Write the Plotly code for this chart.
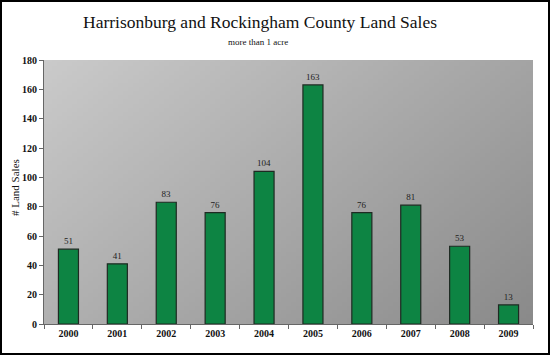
import plotly.graph_objects as go
import zlib, struct, base64

years = ["2000", "2001", "2002", "2003", "2004", "2005", "2006", "2007", "2008", "2009"]
sales = [51, 41, 83, 76, 104, 163, 76, 81, 53, 13]

# diagonal gray gradient background as PNG data URI
def gradient_png(w=96, h=64, c0=202, c1=138):
    raw = b""
    for j in range(h):
        row = b"\x00"
        for i in range(w):
            t = (i / (w - 1) * 0.6 + j / (h - 1) * 0.4)
            v = int(round(c0 + (c1 - c0) * t))
            row += bytes([v, v, v])
        raw += row
    def chunk(tag, data):
        c = struct.pack(">I", len(data)) + tag + data
        return c + struct.pack(">I", zlib.crc32(tag + data) & 0xffffffff)
    png = b"\x89PNG\r\n\x1a\n"
    png += chunk(b"IHDR", struct.pack(">IIBBBBB", w, h, 8, 2, 0, 0, 0))
    png += chunk(b"IDAT", zlib.compress(raw))
    png += chunk(b"IEND", b"")
    return "data:image/png;base64," + base64.b64encode(png).decode()

W, H = 550, 355
ml, mr, mt, mb = 44, 17, 60, 31
pw, ph = W - ml - mr, H - mt - mb

font = "Liberation Serif, Times New Roman, serif"

fig = go.Figure()
fig.add_trace(go.Bar(
    x=years, y=sales,
    marker=dict(color="#0d8443", line=dict(color="#1e2a22", width=1.2)),
    width=0.41,
    text=[str(v) for v in sales], textposition="outside",
    textfont=dict(family=font, size=9, color="#222222"),
    cliponaxis=False,
))

fig.update_layout(
    width=W, height=H,
    margin=dict(l=ml, r=mr, t=mt, b=mb, autoexpand=False),
    paper_bgcolor="white",
    plot_bgcolor="rgba(0,0,0,0)",
    showlegend=False,
    font=dict(family=font, color="#111111"),
    images=[dict(source=gradient_png(), xref="paper", yref="paper", x=0, y=1,
                 sizex=1, sizey=1, sizing="stretch", layer="below", xanchor="left", yanchor="top")],
    annotations=[
        dict(text="Harrisonburg and Rockingham County Land Sales", xref="paper", yref="paper",
             x=(260 - ml) / pw, y=(H - 22 - mb) / ph, xanchor="center", yanchor="middle", showarrow=False,
             font=dict(family=font, size=17.5, color="#111111", weight=500)),
        dict(text="more than 1 acre", xref="paper", yref="paper",
             x=(258 - ml) / pw, y=(H - 42 - mb) / ph, xanchor="center", yanchor="middle", showarrow=False,
             font=dict(family=font, size=9, color="#111111")),
        dict(text="# Land Sales", xref="paper", yref="paper", textangle=-90,
             x=(15 - ml) / pw, y=(H - 188 - mb) / ph, xanchor="center", yanchor="middle",
             showarrow=False, font=dict(family=font, size=11, color="#111111")),
    ],
    shapes=[dict(type="rect", xref="paper", yref="paper",
                 x0=(1 - ml) / pw, x1=(W - 1 - ml) / pw,
                 y0=(1 - mb) / ph, y1=(H - 1 - mb) / ph,
                 line=dict(color="black", width=2), layer="above")],
)

fig.update_xaxes(
    showline=True, linecolor="#666666", linewidth=1,
    ticks="outside", tickson="boundaries", ticklen=4, tickcolor="#666666",
    tickfont=dict(family=font, size=10, color="#111111", weight="bold"),
    showgrid=False, automargin=False,
)
fig.update_yaxes(
    range=[0, 180], dtick=20,
    showline=True, linecolor="#666666", linewidth=1,
    ticks="outside", ticklen=4, tickcolor="#666666",
    tickfont=dict(family=font, size=10, color="#111111", weight="bold"),
    showgrid=False, zeroline=False, automargin=False,
)

fig.write_html("out.html", config={"displayModeBar": False},
               post_script="document.body.style.margin='0';")
